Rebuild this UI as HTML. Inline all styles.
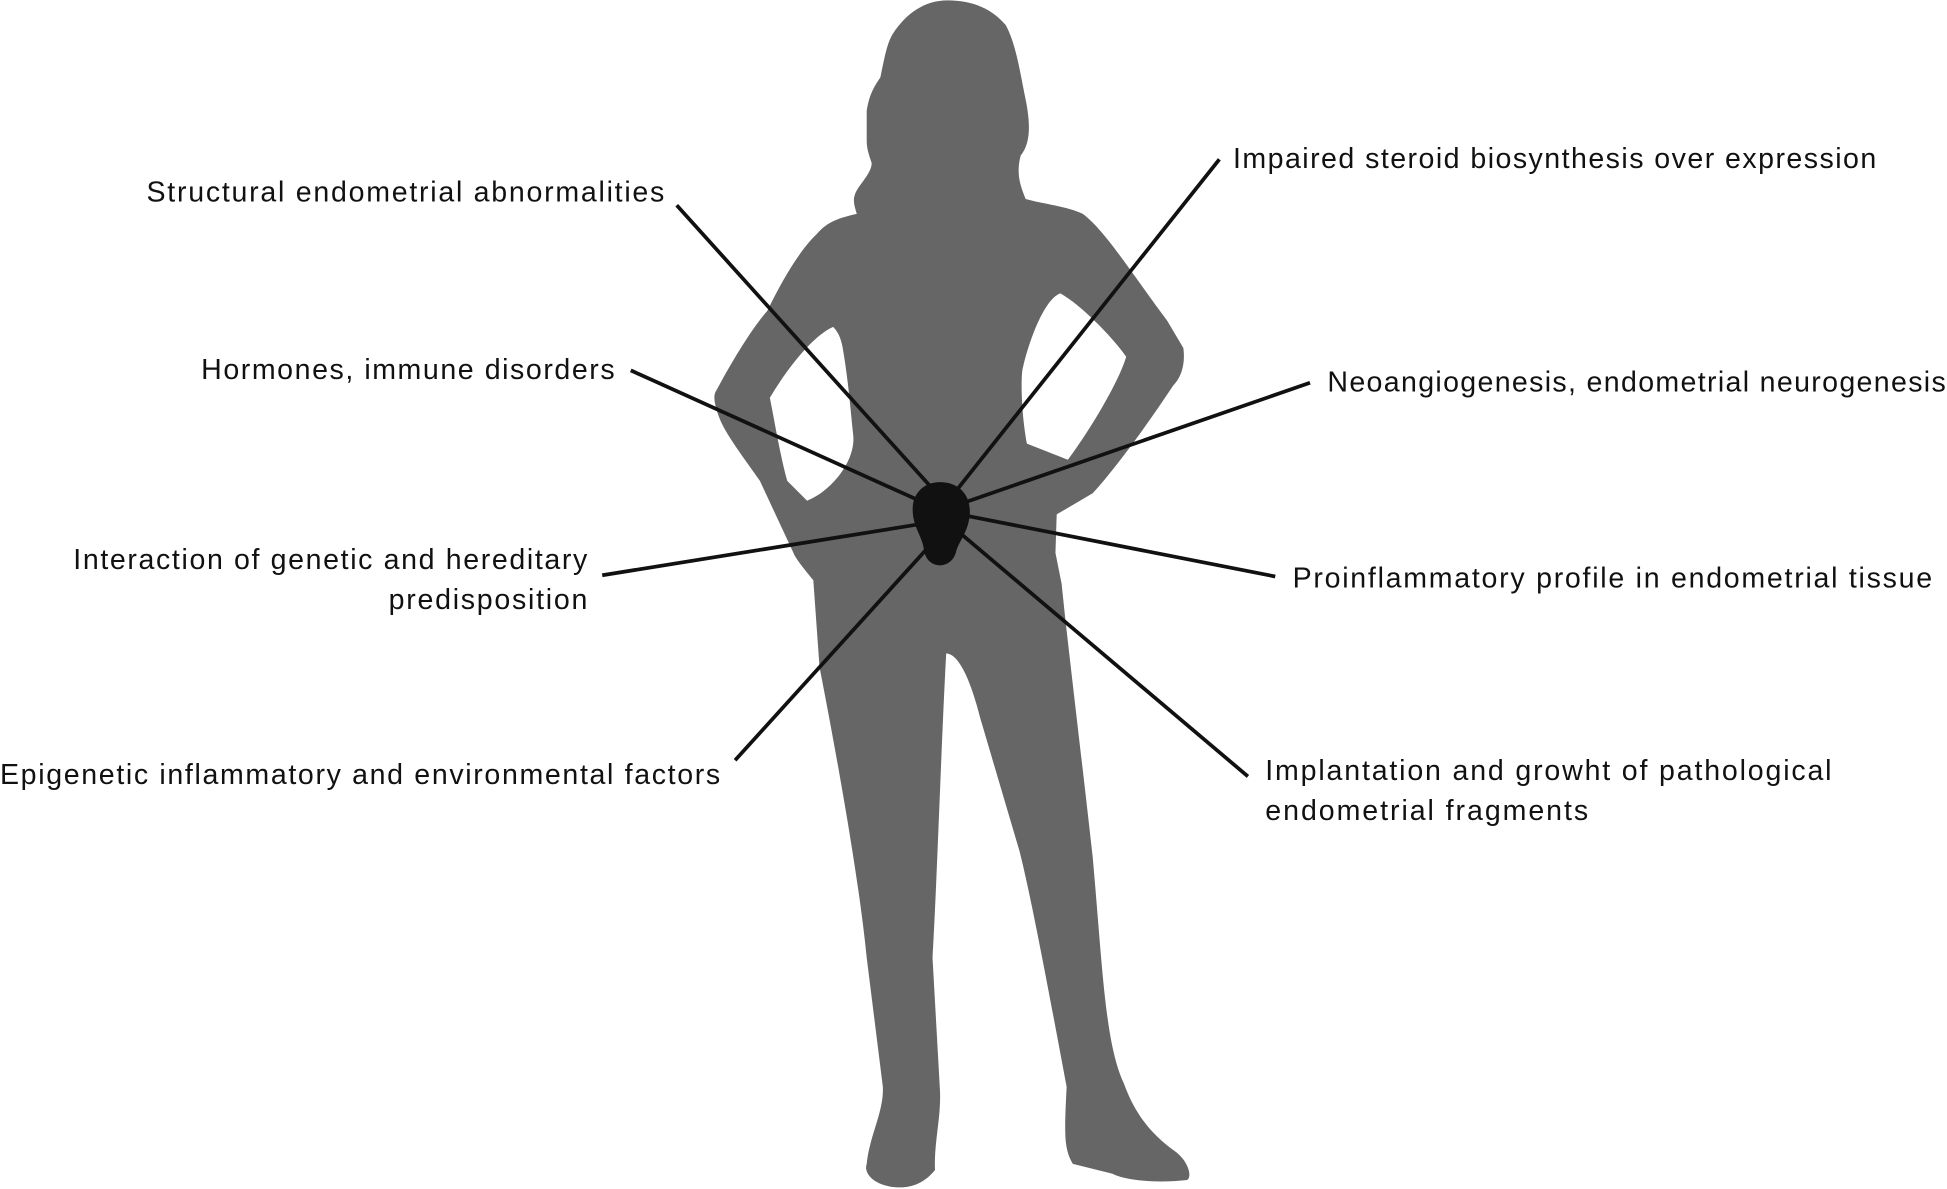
<!DOCTYPE html>
<html><head><meta charset="utf-8"><style>
html,body{margin:0;padding:0;background:#fff;}
svg{display:block;}
text{font-family:"Liberation Sans",sans-serif;font-size:23px;fill:#111;}
</style></head><body>
<svg width="1947" height="1189" viewBox="0 0 1568 957" xmlns="http://www.w3.org/2000/svg">
<path fill="#666" fill-rule="evenodd" d="
M763,0 C785,0 800,8 810,20 C818,35 821,55 826,80 C830,100 830,115 822,125 C818,140 822,150 826,160
C840,164 860,166 872,172 C890,185 915,225 940,258 L953,280 C955,295 950,305 945,310
C925,340 900,375 880,397 L851,414 L850,445 L855,470
C860,520 870,600 880,690 C888,780 890,840 905,872 C915,900 930,915 945,926 C958,935 960,948 956,950
C930,953 905,950 896,945 L864,937 C857,925 857,915 859,875
C845,800 830,720 821,685 L790,580 C780,540 770,526 762,526
C758,600 755,700 751,771 L757,878 C758,900 752,920 753,942 C745,952 735,956 725,956
C705,956 695,945 698,937 C700,915 712,895 711,875 L698,771
C693,720 680,640 660,537 L655,467 C645,455 640,448 639,445 L612,387
C600,370 585,350 580,338 C575,325 574,318 577,314 C590,290 605,265 618,250
C630,225 645,200 658,188 C665,180 672,176 690,172 C688,165 686,160 690,153
C695,145 702,138 702,131 C700,125 698,120 698,113 L698,89 C700,75 705,68 709,62
C712,48 714,35 719,27 C730,10 745,0 763,0 Z
M671,263 C676,268 678,275 679,282 C683,305 685,330 687,349 C690,370 670,395 650,403 L634,387 C628,365 624,340 620,320 C635,295 655,270 671,263 Z
M854,236 C870,245 895,270 907,287 C900,310 875,350 860,370 L827,357 C822,330 822,300 824,295 C830,270 842,240 854,236 Z"/>
<path fill="#111" d="M757,388 C772,388 782,398 781,414 C780,428 772,436 770,444 C768,452 762,455 757,455 C750,455 745,450 744,442 C743,432 735,424 735,410 C735,396 745,388 757,388 Z"/>
<g stroke="#111" stroke-width="3" fill="none">
<line x1="545" y1="165" x2="757" y2="400"/>
<line x1="982" y1="128" x2="770" y2="395"/>
<line x1="508" y1="298" x2="745" y2="405"/>
<line x1="1055" y1="308" x2="775" y2="405"/>
<line x1="485" y1="463" x2="740" y2="422"/>
<line x1="1027" y1="464" x2="778" y2="415"/>
<line x1="592" y1="612" x2="748" y2="440"/>
<line x1="1005" y1="625" x2="772" y2="428"/>
</g>
<text x="535" y="162" text-anchor="end" textLength="417">Structural endometrial abnormalities</text>
<text x="993" y="135" textLength="518">Impaired steroid biosynthesis over expression</text>
<text x="495" y="305" text-anchor="end" textLength="333">Hormones, immune disorders</text>
<text x="1069" y="315" textLength="498">Neoangiogenesis, endometrial neurogenesis</text>
<text x="473" y="458" text-anchor="end" textLength="414">Interaction of genetic and hereditary</text>
<text x="473" y="490" text-anchor="end" textLength="160">predisposition</text>
<text x="1041" y="473" textLength="515">Proinflammatory profile in endometrial tissue</text>
<text x="580" y="631" text-anchor="end" textLength="580">Epigenetic inflammatory and environmental factors</text>
<text x="1019" y="628" textLength="456">Implantation and growht of pathological</text>
<text x="1019" y="660" textLength="260">endometrial fragments</text>
</svg>
</body></html>
